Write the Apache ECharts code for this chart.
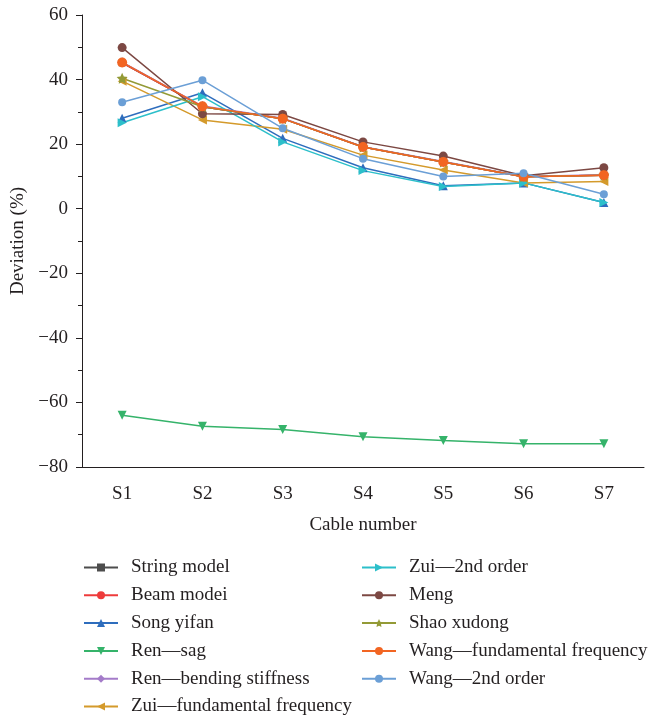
<!DOCTYPE html>
<html>
<head>
<meta charset="utf-8">
<script src="https://cdn.jsdelivr.net/npm/echarts@6/dist/echarts.min.js"></script>
<style>
  html, body { margin: 0; padding: 0; background: #fff; }
  #main { width: 654px; height: 720px; }
</style>
</head>
<body>
<div id="main"></div>
<script>
var cables = ['S1', 'S2', 'S3', 'S4', 'S5', 'S6', 'S7'];

var stringModel = [45.2, 31.6, 27.9, 19.1, 14.5, 9.9, 10.4];
var beamModel = [45.2, 31.6, 27.9, 19.1, 14.5, 9.9, 10.4];
var songYifan = [28.0, 35.9, 21.8, 12.7, 7.1, 8.0, 1.9];
var renSag = [-64.0, -67.4, -68.4, -70.6, -71.8, -72.8, -72.8];
var renBending = [45.4, 31.8, 28.0, 19.2, 14.6, 10.0, 10.5];
var zuiFund = [39.5, 27.5, 24.6, 16.6, 12.0, 8.0, 8.4];
var zui2nd = [26.6, 34.7, 20.7, 11.8, 6.9, 8.0, 1.9];
var meng = [49.9, 29.4, 29.2, 20.7, 16.3, 10.2, 12.7];
var shaoXudong = [40.4, 31.6, 27.9, 19.1, 14.5, 9.9, 10.4];
var wangFund = [45.3, 31.7, 27.9, 19.1, 14.5, 9.9, 10.4];
var wang2nd = [33.0, 39.8, 24.9, 15.5, 10.0, 11.0, 4.5];

var serif = '"Liberation Serif", "DejaVu Serif", serif';
var star = 'path://M0,-10 L2.9,-4 L9.5,-3.1 L4.8,1.5 L5.9,8.1 L0,5 L-5.9,8.1 L-4.8,1.5 L-9.5,-3.1 L-2.9,-4 Z';

function line(name, data, color, symbol, rot, size) {
  return {
    name: name,
    type: 'line',
    data: data,
    symbol: symbol,
    symbolRotate: rot || 0,
    symbolSize: size || 8,
    lineStyle: { color: color, width: 1.5 },
    itemStyle: { color: color },
    z: 2
  };
}

var chart = echarts.init(document.getElementById('main'));
var minus = function (v) { return String(v).replace('-', '\u2212'); };

var legendText = { fontFamily: serif, fontSize: 19, color: '#231f20', padding: [0, 0, 0, 8] };

var option = {
  animation: false,
  grid: { left: 82, top: 15, right: 10, bottom: 253 },
  legend: [{
    orient: 'vertical',
    left: 83,
    top: 558,
    padding: 0,
    itemWidth: 34,
    itemHeight: 10,
    itemGap: 8.8,
    textStyle: legendText,
    data: ['String model', 'Beam modei', 'Song yifan', 'Ren\u2014sag', 'Ren\u2014bending stiffness', 'Zui\u2014fundamental frequency']
  }, {
    orient: 'vertical',
    left: 361,
    top: 558,
    padding: 0,
    itemWidth: 34,
    itemHeight: 10,
    itemGap: 8.8,
    textStyle: legendText,
    data: ['Zui\u20142nd order', 'Meng', 'Shao xudong', 'Wang\u2014fundamental frequency', 'Wang\u20142nd order']
  }],
  xAxis: [{
    type: 'category',
    data: cables,
    boundaryGap: true,
    name: 'Cable number',
    nameLocation: 'middle',
    nameGap: 49,
    nameTextStyle: { fontFamily: serif, fontSize: 19, color: '#231f20' },
    axisLine: { onZero: false, lineStyle: { color: '#231f20', width: 1 } },
    axisTick: { alignWithLabel: true, length: 7, lineStyle: { color: '#231f20' } },
    axisLabel: { fontFamily: serif, fontSize: 19, color: '#231f20', margin: 18 }
  }, {
    type: 'category',
    data: cables,
    position: 'bottom',
    boundaryGap: true,
    axisLine: { show: false, onZero: false },
    axisTick: { length: 5, lineStyle: { color: '#231f20' } },
    axisLabel: { show: false }
  }],
  yAxis: {
    type: 'value',
    min: -80,
    max: 60,
    interval: 20,
    name: 'Deviation (%)',
    nameLocation: 'middle',
    nameGap: 52,
    nameTextStyle: { fontFamily: serif, fontSize: 19, color: '#231f20' },
    axisLine: { show: true, lineStyle: { color: '#231f20', width: 1 } },
    axisTick: { show: true, length: 6, lineStyle: { color: '#231f20' } },
    minorTick: { show: true, splitNumber: 2, length: 4, lineStyle: { color: '#231f20' } },
    splitLine: { show: false },
    axisLabel: { fontFamily: serif, fontSize: 19, color: '#231f20', margin: 14, formatter: minus }
  },
  series: [
    line('String model', stringModel, '#4d4d4d', 'rect', 0, 7),
    line('Beam modei', beamModel, '#ee3b3b', 'circle', 0, 8),
    line('Song yifan', songYifan, '#2e6dbd', 'triangle', 0, 9),
    line('Ren\u2014sag', renSag, '#35b36a', 'triangle', 180, 9),
    line('Ren\u2014bending stiffness', renBending, '#a47bc9', 'diamond', 0, 10),
    line('Zui\u2014fundamental frequency', zuiFund, '#d49a2b', 'triangle', 90, 9),
    line('Zui\u20142nd order', zui2nd, '#2cbfca', 'triangle', -90, 9),
    line('Meng', meng, '#7c4843', 'circle', 0, 9),
    line('Shao xudong', shaoXudong, '#939a36', star, 0, 11),
    line('Wang\u2014fundamental frequency', wangFund, '#f26522', 'circle', 0, 10),
    line('Wang\u20142nd order', wang2nd, '#6b9fd6', 'circle', 0, 8)
  ]
};

chart.setOption(option);
</script>
</body>
</html>
